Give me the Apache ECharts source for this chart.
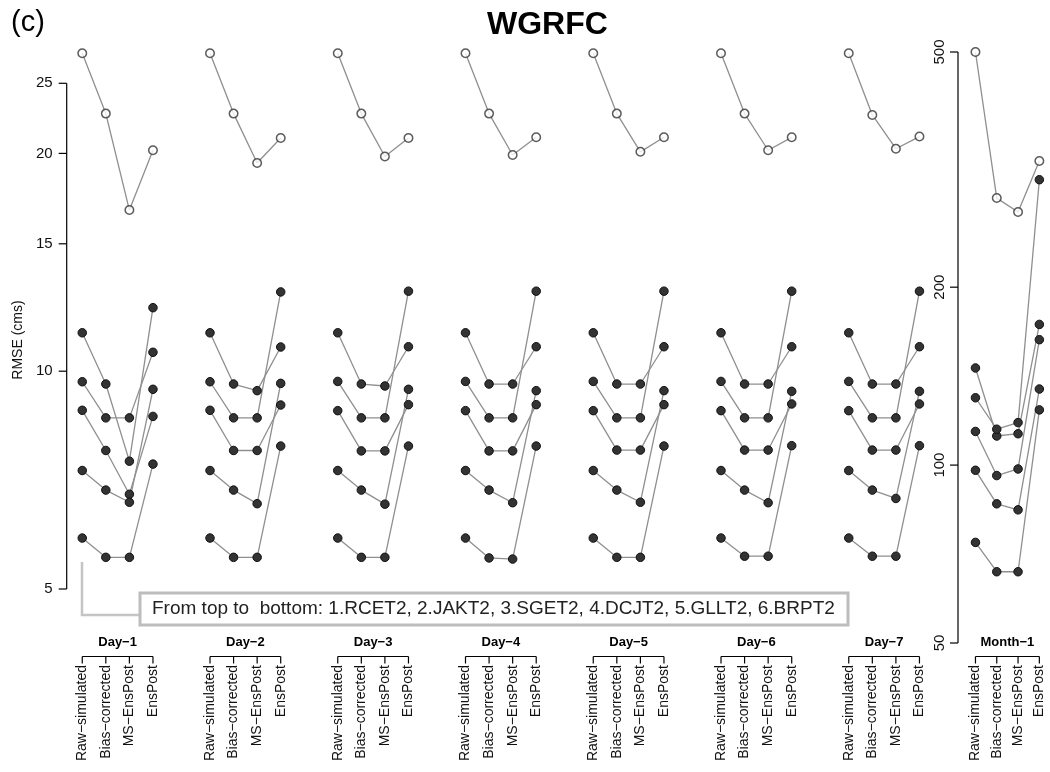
<!DOCTYPE html>
<html><head><meta charset="utf-8">
<script src="https://cdn.jsdelivr.net/npm/echarts@6/dist/echarts.min.js"></script>
<style>html,body{margin:0;padding:0;background:#fff}#c{width:1050px;height:772px}</style>
</head><body><div id="c"></div>
<script>
// ---------------- data ----------------
const groups = ['Day−1','Day−2','Day−3','Day−4','Day−5','Day−6','Day−7','Month−1'];
const methods = ['Raw−simulated','Bias−corrected','MS−EnsPost','EnsPost'];
const stations = ['RCET2','JAKT2','SGET2','DCJT2','GLLT2','BRPT2'];
const leftTicks = [5, 10, 15, 20, 25];
const rightTicks = [50, 100, 200, 500];
const legendText = 'From top to  bottom: 1.RCET2, 2.JAKT2, 3.SGET2, 4.DCJT2, 5.GLLT2, 6.BRPT2';

// RMSE (cms): one row per group (Day-1 .. Day-7, Month-1), columns = methods
const RCET2 = [
  [27.5, 22.7, 16.7, 20.2],
  [27.5, 22.7, 19.4, 21.0],
  [27.5, 22.7, 19.8, 21.0],
  [27.5, 22.7, 19.9, 21.05],
  [27.5, 22.7, 20.1, 21.05],
  [27.5, 22.7, 20.2, 21.05],
  [27.5, 22.6, 20.3, 21.1],
  [500, 283, 268, 327]
];
const JAKT2 = [
  [11.3, 9.6, 7.51, 12.24],
  [11.3, 9.6, 9.4, 10.8],
  [11.3, 9.6, 9.54, 10.81],
  [11.3, 9.6, 9.6, 10.81],
  [11.3, 9.6, 9.6, 10.81],
  [11.3, 9.6, 9.6, 10.81],
  [11.3, 9.6, 9.6, 10.81],
  [146, 112, 113, 173]
];
const SGET2 = [
  [9.67, 8.62, 8.62, 10.62],
  [9.67, 8.62, 8.62, 12.87],
  [9.68, 8.62, 8.62, 12.9],
  [9.68, 8.62, 8.62, 12.9],
  [9.68, 8.62, 8.62, 12.9],
  [9.68, 8.62, 8.62, 12.9],
  [9.68, 8.62, 8.62, 12.9],
  [130, 115, 118, 304]
];
const DCJT2 = [
  [8.83, 7.77, 6.76, 8.66],
  [8.83, 7.77, 7.77, 8.98],
  [8.82, 7.76, 7.76, 8.99],
  [8.82, 7.76, 7.76, 8.99],
  [8.82, 7.78, 7.78, 8.99],
  [8.82, 7.78, 7.78, 9.01],
  [8.82, 7.78, 7.78, 9.01],
  [114, 96, 98.5, 163]
];
const GLLT2 = [
  [7.29, 6.85, 6.59, 9.44],
  [7.29, 6.85, 6.56, 9.62],
  [7.29, 6.85, 6.55, 9.44],
  [7.29, 6.85, 6.58, 9.4],
  [7.29, 6.85, 6.59, 9.4],
  [7.29, 6.85, 6.58, 9.38],
  [7.29, 6.85, 6.67, 9.38],
  [98, 86, 84, 134.5]
];
const BRPT2 = [
  [5.88, 5.53, 5.53, 7.44],
  [5.88, 5.53, 5.53, 7.88],
  [5.88, 5.53, 5.53, 7.88],
  [5.88, 5.52, 5.5, 7.88],
  [5.88, 5.53, 5.53, 7.88],
  [5.88, 5.55, 5.55, 7.89],
  [5.88, 5.55, 5.55, 7.89],
  [74, 66, 66, 124]
];
const stationValues = [RCET2, JAKT2, SGET2, DCJT2, GLLT2, BRPT2];

// ---------------- layout ----------------
const FONT = "'Liberation Sans', Arial, Helvetica, sans-serif";
const UNIT = 23.57;          // px per category step
const GSTEP = 5.42;          // category steps between groups
const NDAYS = 7;
const XA = [-0.66, 36];      // x extent, left panel
const XB = [-0.82, 3.5];     // x extent, month panel
const YA = [5, 28.51];
const YB = [50, 500];
const BRACKET_Y = 656.5, GROUP_LABEL_Y = 642;

function xpos(g, i) { return g < NDAYS ? g * GSTEP + i : i; }

const chart = echarts.init(document.getElementById('c'), null, {renderer: 'canvas'});

const series = [];
stationValues.forEach((vals, s) => {
  const open = s === 0;
  groups.forEach((gname, g) => {
    const ax = g < NDAYS ? 0 : 1;
    series.push({
      type: 'line', name: stations[s], xAxisIndex: ax, yAxisIndex: ax,
      data: methods.map((m, i) => [xpos(g, i), vals[g][i]]),
      showSymbol: false, symbol: 'none', clip: false, silent: true, z: 2,
      lineStyle: {color: '#8f8f8f', width: 1.3}
    });
  });
  [0, 1].forEach(ax => {
    const pts = [];
    groups.forEach((gname, g) => {
      if ((g < NDAYS ? 0 : 1) !== ax) return;
      methods.forEach((m, i) => pts.push([xpos(g, i), vals[g][i]]));
    });
    series.push({
      type: 'scatter', name: stations[s], xAxisIndex: ax, yAxisIndex: ax,
      data: pts, symbol: 'circle', symbolSize: 8.5, clip: false, silent: true, z: 3,
      itemStyle: open ? {color: '#fff', borderColor: '#333', borderWidth: 1.5}
                      : {color: '#333', borderColor: '#111', borderWidth: 1, opacity: 1}
    });
  });
});

// axis decoration (line + ticks + labels) drawn from tick values through the axes
function axisSeries(ax, ticks, xmin, rotated) {
  return {
    type: 'custom', xAxisIndex: ax, yAxisIndex: ax, silent: true, clip: false, z: 4,
    data: [[xmin, ticks[0]]],
    renderItem: (p, api) => {
      const lo = api.coord([xmin, ticks[0]]);
      const hi = api.coord([xmin, ticks[ticks.length - 1]]);
      const ch = [{type: 'line', shape: {x1: lo[0], y1: lo[1], x2: hi[0], y2: hi[1]},
                   style: {stroke: '#000', lineWidth: 1.2}}];
      ticks.forEach(t => {
        const c = api.coord([xmin, t]);
        ch.push({type: 'line', shape: {x1: c[0] - 8, y1: c[1], x2: c[0], y2: c[1]},
                 style: {stroke: '#000', lineWidth: 1.2}});
        if (rotated) {
          ch.push({type: 'text', x: c[0] - 18, y: c[1], rotation: Math.PI / 2,
                   style: {text: String(t), align: 'center', verticalAlign: 'middle',
                           fontSize: 15, fontFamily: FONT, fill: '#111'}});
        } else {
          ch.push({type: 'text', x: c[0] - 14, y: c[1],
                   style: {text: String(t), align: 'right', verticalAlign: 'middle',
                           fontSize: 15, fontFamily: FONT, fill: '#111'}});
        }
      });
      return {type: 'group', children: ch};
    }
  };
}
series.push(axisSeries(0, leftTicks, XA[0], false));
series.push(axisSeries(1, rightTicks, XB[0], true));

// group brackets + group names
function bracketSeries(ax, gList, ymin) {
  return {
    type: 'custom', xAxisIndex: ax, yAxisIndex: ax, silent: true, clip: false, z: 4,
    data: gList.map(g => [xpos(g, 0), ymin]),
    renderItem: (p, api) => {
      const g = gList[p.dataIndex];
      const xs = methods.map((m, i) => api.coord([xpos(g, i), ymin])[0]);
      const ch = [{type: 'line', shape: {x1: xs[0], y1: BRACKET_Y, x2: xs[3], y2: BRACKET_Y},
                   style: {stroke: '#000', lineWidth: 1.2}}];
      xs.forEach(x => ch.push({type: 'line', shape: {x1: x, y1: BRACKET_Y, x2: x, y2: BRACKET_Y + 7},
                               style: {stroke: '#000', lineWidth: 1.2}}));
      ch.push({type: 'text', x: (xs[0] + xs[3]) / 2, y: GROUP_LABEL_Y,
               style: {text: groups[g], align: 'center', verticalAlign: 'middle',
                       fontSize: 13, fontWeight: 'bold', fontFamily: FONT, fill: '#000'}});
      return {type: 'group', children: ch};
    }
  };
}
series.push(bracketSeries(0, [0, 1, 2, 3, 4, 5, 6], YA[0]));
series.push(bracketSeries(1, [7], YB[0]));

function catLabels(gList) {
  const vals = [], names = {};
  gList.forEach(g => methods.forEach((m, i) => { const v = xpos(g, i); vals.push(v); names[v.toFixed(3)] = m; }));
  return {vals, fmt: v => names[Number(v).toFixed(3)] || ''};
}
const labA = catLabels([0, 1, 2, 3, 4, 5, 6]);
const labB = catLabels([7]);

function xAxisCfg(ext, lab, gridIndex, margin) {
  return {
    type: 'value', gridIndex, min: ext[0], max: ext[1],
    axisLine: {show: false}, axisTick: {show: false}, splitLine: {show: false},
    axisLabel: {customValues: lab.vals, formatter: lab.fmt, rotate: 90, margin,
                fontSize: 14, fontFamily: FONT, color: '#111', hideOverlap: false}
  };
}
function yAxisCfg(ext, gridIndex) {
  return {
    type: 'log', logBase: 10, gridIndex, min: ext[0], max: ext[1],
    axisLine: {show: false}, axisTick: {show: false}, axisLabel: {show: false},
    splitLine: {show: false}
  };
}

const option = {
  animation: false,
  backgroundColor: '#fff',
  grid: [
    {left: 66.7, top: 42, height: 547, width: (XA[1] - XA[0]) * UNIT, containLabel: false},
    {left: 958, top: 52, height: 591, width: (XB[1] - XB[0]) * UNIT, containLabel: false}
  ],
  xAxis: [xAxisCfg(XA, labA, 0, 76), xAxisCfg(XB, labB, 1, 22)],
  yAxis: [yAxisCfg(YA, 0), yAxisCfg(YB, 1)],
  graphic: [
    {type: 'text', left: 487, top: 9,
     style: {text: 'WGRFC', fontSize: 32, fontWeight: 'bold', fontFamily: FONT, fill: '#000'}},
    {type: 'text', left: 11, top: 8,
     style: {text: '(c)', fontSize: 29, fontFamily: FONT, fill: '#000'}},
    {type: 'text', x: 18, y: 340, rotation: Math.PI / 2,
     style: {text: 'RMSE (cms)', fontSize: 14, fontFamily: FONT, fill: '#111',
             align: 'center', verticalAlign: 'middle'}},
    {type: 'polyline', shape: {points: [[82, 562], [82, 615], [140, 615]]},
     style: {stroke: '#c4c4c4', lineWidth: 2.5, fill: null}},
    {type: 'rect', shape: {x: 140, y: 593, width: 708, height: 32},
     style: {stroke: '#bdbdbd', lineWidth: 3, fill: '#fff'}},
    {type: 'text', x: 152, y: 609,
     style: {text: legendText, fontSize: 19, fontFamily: FONT, fill: '#222',
             verticalAlign: 'middle'}}
  ],
  series
};
chart.setOption(option);
</script>
</body></html>
